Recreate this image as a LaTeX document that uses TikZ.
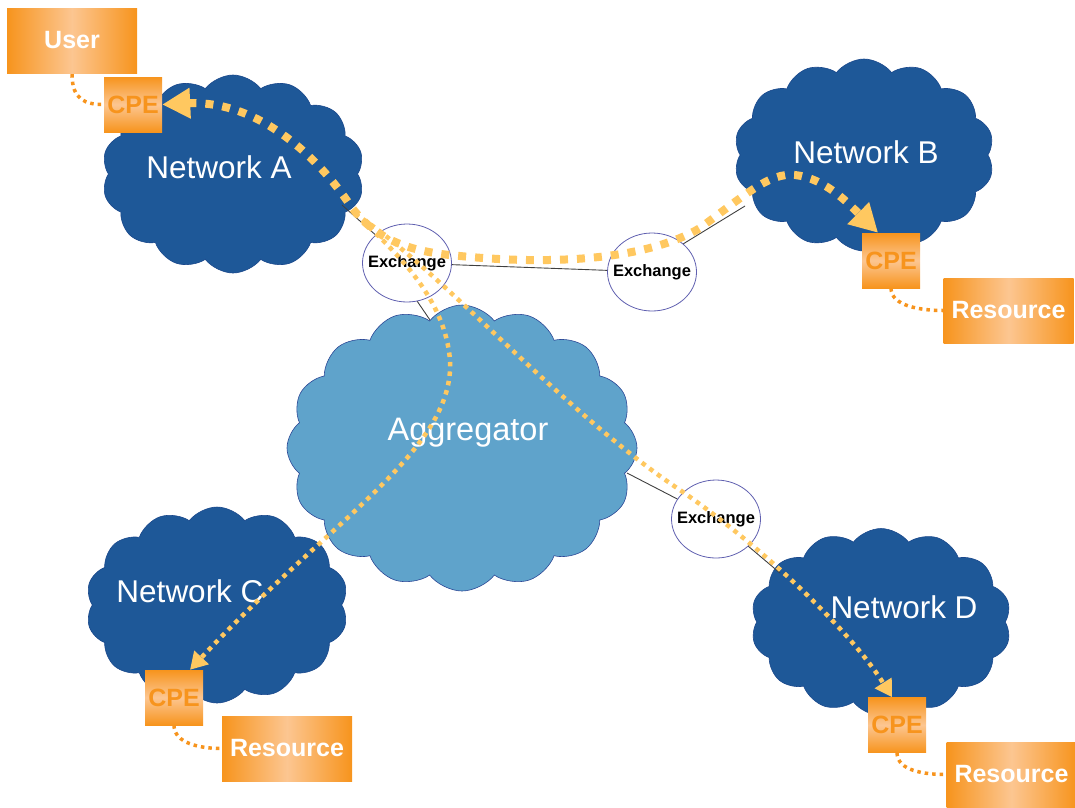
\documentclass[tikz,border=0pt]{standalone}
\usepackage{fontspec}
\setmainfont{Liberation Sans}
\usetikzlibrary{shapes.symbols,shapes.geometric,arrows.meta}

\definecolor{netblue}{RGB}{30,88,152}
\definecolor{netedge}{RGB}{26,72,140}
\definecolor{aggblue}{RGB}{95,163,203}
\definecolor{aggedge}{RGB}{44,72,150}
\definecolor{boxorange}{RGB}{247,148,29}
\definecolor{peach}{RGB}{252,198,145}
\definecolor{routegold}{RGB}{255,200,96}
\definecolor{exedge}{RGB}{96,96,176}

\tikzset{
  netcloud/.style={cloud, cloud puffs=14, cloud puff arc=105, cloud ignores aspect,
    fill=netblue, draw=netedge, line width=0.6pt, inner sep=0pt},
  aggcloud/.style={cloud, cloud puffs=16, cloud puff arc=105, cloud ignores aspect,
    fill=aggblue, draw=aggedge, line width=0.6pt, inner sep=0pt},
  netlabel/.style={text=white, font=\fontsize{31.5}{35}\selectfont, inner sep=0pt},
  exchange/.style={ellipse, draw=exedge, line width=0.8pt, fill=white,
    minimum width=89pt, minimum height=78pt, inner sep=0pt,
    font=\fontsize{16.5}{18}\selectfont\bfseries},
  endbox/.style={minimum width=130pt, minimum height=65pt, inner sep=0pt,
    left color=boxorange, right color=boxorange, middle color=peach,
    text=white, font=\fontsize{25}{28}\selectfont\bfseries},
  cpebox/.style={minimum width=58pt, minimum height=55pt, inner sep=0pt,
    top color=boxorange, bottom color=boxorange, middle color=peach,
    text=boxorange, font=\fontsize{25}{28}\selectfont\bfseries},
  link/.style={draw=black!75, line width=0.9pt},
  access/.style={draw=boxorange, line width=3.5pt, dash pattern=on 3.5pt off 4pt},
  mainroute/.style={draw=routegold, line width=8pt, dash pattern=on 8pt off 9pt,
    {Triangle[length=28pt,width=29pt]}-{Triangle[length=28pt,width=29pt]}},
  sideroute/.style={draw=routegold, line width=4.5pt, dash pattern=on 4.5pt off 5pt,
    -{Triangle[length=17pt,width=19pt]}},
}
% label of fixed-size exchange ellipses
\newcommand{\exlabel}{\makebox[0pt]{Exchange}}

\begin{document}
\begin{tikzpicture}[x=1pt, y=-1pt]
\useasboundingbox (0,0) rectangle (1075,807);

% clouds
\node[netcloud, minimum width=262pt, minimum height=196pt] (netC) at (217,605) {};
\node[aggcloud, minimum width=350pt, minimum height=286pt] (agg) at (462,448) {};
\node[netcloud, minimum width=262pt, minimum height=198pt] (netA) at (233,174) {};
\node[netcloud, minimum width=260pt, minimum height=192pt] (netB) at (864,155) {};
\node[netcloud, minimum width=260pt, minimum height=187pt] (netD) at (881,622) {};

\node[netlabel] (labA) at (219,167) {Network A};
\node[netlabel] (labB) at (866,152) {Network B};
\node[netlabel] (labC) at (190,591) {Network C};
\node[netlabel] (labD) at (904,607) {Network D};
\node[netlabel, font=\fontsize{32.5}{36}\selectfont] (labAgg) at (468,433) {Aggregator};

% exchanges
\node[exchange] (ex1) at (407,263) {\exlabel};
\node[exchange] (ex2) at (652,272) {\exlabel};
\node[exchange] (ex3) at (716,519) {\exlabel};

% points where links meet the cloud edges
\coordinate (aEdge) at (342,205);
\coordinate (bEdge) at (745,206);
\coordinate (aggTop) at (430,320);
\coordinate (aggRight) at (627,473);
\coordinate (dEdge) at (780,573);
\coordinate (split) at (355,214);

% physical links
\draw[link] (aEdge) -- (ex1);
\draw[link] (ex1) -- (ex2);
\draw[link] (ex2.42) -- (bEdge);
\draw[link] (ex1.-75) -- (aggTop);
\draw[link] (aggRight) -- (ex3);
\draw[link] (ex3) -- (dEdge);

% end points
\node[endbox] (user) at (72,40.5) {User};
\node[cpebox] (cpeA) at (133,104.5) {CPE};
\node[cpebox] (cpeB) at (891,260.5) {CPE};
\node[endbox] (resB) at (1008.5,310.5) {Resource};
\node[cpebox] (cpeC) at (174,697.5) {CPE};
\node[endbox] (resC) at (287,748.5) {Resource};
\node[cpebox] (cpeD) at (897,725) {CPE};
\node[endbox] (resD) at (1011.5,774.5) {Resource};

% access connections
\draw[access] (user.south) ++(0,1) .. controls +(0,26) and +(-18,0) .. (cpeA.west);
\draw[access] (cpeB.south) .. controls +(0,18) and +(-22,0) .. (resB.west);
\draw[access] (cpeC.south) .. controls +(0,18) and +(-22,0) .. (resC.west);
\draw[access] (cpeD.south) .. controls +(0,18) and +(-22,0) .. (resD.west);

% routes through the aggregator
\draw[sideroute] (split) .. controls (400,255) and (445,300) .. (450,360)
  .. controls (455,450) and (330,520) .. (cpeC.60);
\draw[sideroute] (split) .. controls (430,260) and (560,410) .. (680,490)
  .. controls (760,545) and (850,630) .. (cpeD.100);

% direct route between Network A and Network B
\draw[mainroute] (cpeA.east) .. controls (260,100) and (320,160) .. (350,205)
  .. controls (375,240) and (410,252) .. (460,256)
  .. controls (560,266) and (650,258) .. (700,228)
  .. controls (745,195) and (770,172) .. (795,175)
  .. controls (825,178) and (850,205) .. (cpeB.115);
\end{tikzpicture}
\end{document}
